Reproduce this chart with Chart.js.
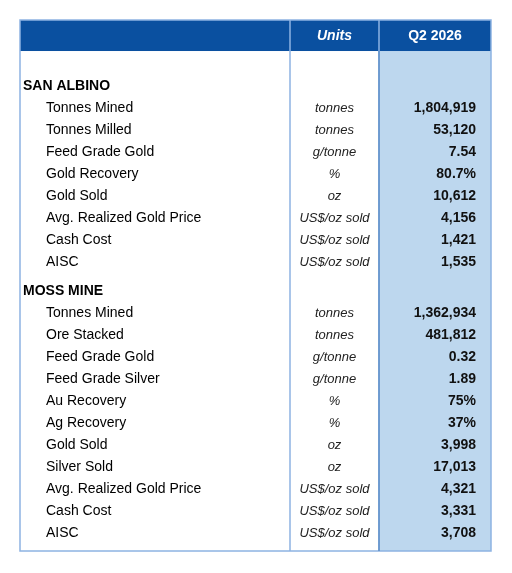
<!DOCTYPE html>
<html><head><meta charset="utf-8">
<script src="https://cdn.jsdelivr.net/npm/chart.js@4"></script>
<style>html,body{margin:0;background:#fff}#w{width:512px;height:573px}</style>
</head><body><div id="w"><canvas id="c"></canvas></div>
<script>
const headers = ["", "Units", "Q2 2026"];
const sections = ["SAN ALBINO", "MOSS MINE"];
const metricsSan = ["Tonnes Mined","Tonnes Milled","Feed Grade Gold","Gold Recovery","Gold Sold","Avg. Realized Gold Price","Cash Cost","AISC"];
const unitsSan = ["tonnes","tonnes","g/tonne","%","oz","US$/oz sold","US$/oz sold","US$/oz sold"];
const valuesSan = ["1,804,919","53,120","7.54","80.7%","10,612","4,156","1,421","1,535"];
const metricsMoss = ["Tonnes Mined","Ore Stacked","Feed Grade Gold","Feed Grade Silver","Au Recovery","Ag Recovery","Gold Sold","Silver Sold","Avg. Realized Gold Price","Cash Cost","AISC"];
const unitsMoss = ["tonnes","tonnes","g/tonne","g/tonne","%","%","oz","oz","US$/oz sold","US$/oz sold","US$/oz sold"];
const valuesMoss = ["1,362,934","481,812","0.32","1.89","75%","37%","3,998","17,013","4,321","3,331","3,708"];

// row slots in table-row units (22px each), measured from table top
const sanStart = 4, mossHead = 12.32, mossStart = 13.32;

const tablePlugin = {
  id:'table',
  beforeDatasetsDraw(chart){
    const {ctx} = chart, x = chart.scales.x, y = chart.scales.y;
    const X = v=>x.getPixelForValue(v), Y = v=>y.getPixelForValue(v);
    const L=X(0), R=X(471), C1=X(270), C2=X(359), T=Y(0), B=Y(24.14), H=Y(1.41);
    ctx.save();
    ctx.fillStyle='#BDD7EE'; ctx.fillRect(C2,H,R-C2,B-H);
    ctx.fillStyle='#0A50A0'; ctx.fillRect(L,T,R-L,H-T);
    ctx.strokeStyle='#8DB3E2'; ctx.lineWidth=1.5;
    ctx.strokeRect(L,T,R-L,B-T);
    ctx.beginPath(); ctx.moveTo(C1,T); ctx.lineTo(C1,B); ctx.moveTo(C2,T); ctx.lineTo(C2,B); ctx.stroke();
    ctx.strokeStyle='#5F8FC9'; ctx.beginPath(); ctx.moveTo(C2,H); ctx.lineTo(C2,B); ctx.stroke();
    ctx.textBaseline='middle';
    const hy=Y(0.75);
    ctx.fillStyle='#fff'; ctx.textAlign='center';
    ctx.font='italic bold 14px "Liberation Sans"'; ctx.fillText(headers[1],(C1+C2)/2,hy);
    ctx.font='bold 14px "Liberation Sans"'; ctx.fillText(headers[2],(C2+R)/2,hy);
    const drawSec=(name,hr,start,m,u,v)=>{
      ctx.fillStyle='#000'; ctx.textAlign='left'; ctx.font='bold 14px "Liberation Sans"';
      ctx.fillText(name,X(3),Y(hr));
      m.forEach((t,i)=>{
        const yy=Y(start+i);
        ctx.fillStyle='#000'; ctx.textAlign='left'; ctx.font='14px "Liberation Sans"';
        ctx.fillText(t,X(26),yy);
        ctx.fillStyle='#222'; ctx.textAlign='center'; ctx.font='italic 13px "Liberation Sans"';
        ctx.fillText(u[i],(C1+C2)/2,yy);
        ctx.fillStyle='#111'; ctx.textAlign='right'; ctx.font='bold 14px "Liberation Sans"';
        ctx.fillText(v[i],X(456),yy);
      });
    };
    drawSec(sections[0],sanStart-1,sanStart,metricsSan,unitsSan,valuesSan);
    drawSec(sections[1],mossHead,mossStart,metricsMoss,unitsMoss,valuesMoss);
    ctx.restore();
  }
};
new Chart(document.getElementById('c'),{
  type:'scatter',
  data:{datasets:[{data:[],pointRadius:0}]},
  options:{responsive:true,maintainAspectRatio:false,animation:false,
    layout:{padding:{left:20,right:21,top:20,bottom:22}},
    plugins:{legend:{display:false},tooltip:{enabled:false}},
    scales:{x:{type:'linear',min:0,max:471,display:false},
            y:{type:'linear',min:0,max:24.14,reverse:true,display:false}}},
  plugins:[tablePlugin]
});
</script></body></html>
